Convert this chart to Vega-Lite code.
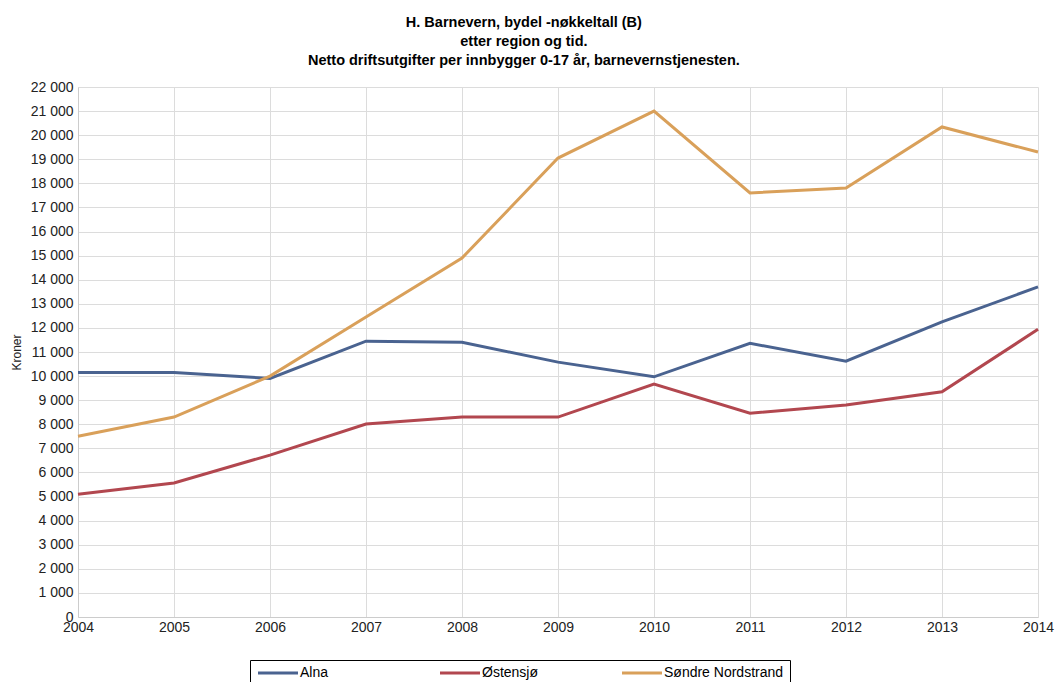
{
  "$schema": "https://vega.github.io/schema/vega-lite/v6.json",
  "width": 960,
  "height": 530,
  "autosize": {"type": "none"},
  "padding": {"left": 78, "top": 87, "right": 19, "bottom": 65},
  "background": "white",
  "config": {
    "locale": {"number": {"decimal": ",", "thousands": " ", "grouping": [3], "currency": ["", ""]}},
    "font": "Liberation Sans",
    "view": {"stroke": null}
  },
  "title": {
    "text": ["H. Barnevern, bydel -nøkkeltall (B)", "etter region og tid.", "Netto driftsutgifter per innbygger 0-17 år, barnevernstjenesten."],
    "anchor": "middle",
    "frame": "bounds",
    "font": "Liberation Sans",
    "fontSize": 14.5,
    "fontWeight": "bold",
    "color": "#000000",
    "lineHeight": 19,
    "offset": 12,
    "dx": -8
  },
  "data": {
    "values": [
      {"year": 2004, "region": "Alna", "value": 10150},
      {"year": 2005, "region": "Alna", "value": 10150},
      {"year": 2006, "region": "Alna", "value": 9900},
      {"year": 2007, "region": "Alna", "value": 11450},
      {"year": 2008, "region": "Alna", "value": 11400},
      {"year": 2009, "region": "Alna", "value": 10580},
      {"year": 2010, "region": "Alna", "value": 9970},
      {"year": 2011, "region": "Alna", "value": 11360},
      {"year": 2012, "region": "Alna", "value": 10620},
      {"year": 2013, "region": "Alna", "value": 12250},
      {"year": 2014, "region": "Alna", "value": 13700},
      {"year": 2004, "region": "Østensjø", "value": 5100},
      {"year": 2005, "region": "Østensjø", "value": 5560},
      {"year": 2006, "region": "Østensjø", "value": 6720},
      {"year": 2007, "region": "Østensjø", "value": 8010},
      {"year": 2008, "region": "Østensjø", "value": 8300},
      {"year": 2009, "region": "Østensjø", "value": 8300},
      {"year": 2010, "region": "Østensjø", "value": 9670},
      {"year": 2011, "region": "Østensjø", "value": 8460},
      {"year": 2012, "region": "Østensjø", "value": 8800},
      {"year": 2013, "region": "Østensjø", "value": 9350},
      {"year": 2014, "region": "Østensjø", "value": 11940},
      {"year": 2004, "region": "Søndre Nordstrand", "value": 7500},
      {"year": 2005, "region": "Søndre Nordstrand", "value": 8300},
      {"year": 2006, "region": "Søndre Nordstrand", "value": 10000},
      {"year": 2007, "region": "Søndre Nordstrand", "value": 12450},
      {"year": 2008, "region": "Søndre Nordstrand", "value": 14900},
      {"year": 2009, "region": "Søndre Nordstrand", "value": 19050},
      {"year": 2010, "region": "Søndre Nordstrand", "value": 21000},
      {"year": 2011, "region": "Søndre Nordstrand", "value": 17600},
      {"year": 2012, "region": "Søndre Nordstrand", "value": 17810},
      {"year": 2013, "region": "Søndre Nordstrand", "value": 20340},
      {"year": 2014, "region": "Søndre Nordstrand", "value": 19300}
    ]
  },
  "mark": {"type": "line", "strokeWidth": 3},
  "encoding": {
    "x": {
      "field": "year",
      "type": "quantitative",
      "scale": {"domain": [2004, 2014], "nice": false, "zero": false},
      "axis": {
        "title": null,
        "values": [2004, 2005, 2006, 2007, 2008, 2009, 2010, 2011, 2012, 2013, 2014],
        "format": "d",
        "labelFont": "Liberation Sans",
        "labelFontSize": 14,
        "labelColor": "#222222",
        "labelPadding": 3,
        "labelFlush": false,
        "labelOverlap": false,
        "ticks": false,
        "domainColor": "#cccccc",
        "gridColor": "#dcdcdc",
        "grid": true
      }
    },
    "y": {
      "field": "value",
      "type": "quantitative",
      "scale": {"domain": [0, 22000], "nice": false},
      "axis": {
        "title": "Kroner",
        "titleFont": "Liberation Sans",
        "titleFontSize": 12,
        "titleFontWeight": "normal",
        "titleColor": "#222222",
        "titlePadding": 7,
        "values": [0, 1000, 2000, 3000, 4000, 5000, 6000, 7000, 8000, 9000, 10000, 11000, 12000, 13000, 14000, 15000, 16000, 17000, 18000, 19000, 20000, 21000, 22000],
        "format": ",d",
        "labelFont": "Liberation Sans",
        "labelFontSize": 14,
        "labelColor": "#222222",
        "labelPadding": 5,
        "labelOverlap": false,
        "ticks": false,
        "domainColor": "#cccccc",
        "gridColor": "#dcdcdc",
        "grid": true
      }
    },
    "color": {
      "field": "region",
      "type": "nominal",
      "scale": {
        "domain": ["Alna", "Østensjø", "Søndre Nordstrand"],
        "range": ["#4a6390", "#b2474f", "#d9a05a"]
      },
      "legend": {
        "title": null,
        "orient": "none",
        "legendX": 172,
        "legendY": 573,
        "direction": "horizontal",
        "columns": 3,
        "gridAlign": "all",
        "columnPadding": 14,
        "strokeColor": "#000000",
        "padding": 6,
        "symbolType": "M-4,0H4",
        "symbolSize": 100,
        "symbolOffset": 15,
        "symbolStrokeWidth": 3,
        "labelFont": "Liberation Sans",
        "labelFontSize": 14,
        "labelColor": "#000000",
        "labelOffset": 15,
        "labelLimit": 300
      }
    }
  }
}
